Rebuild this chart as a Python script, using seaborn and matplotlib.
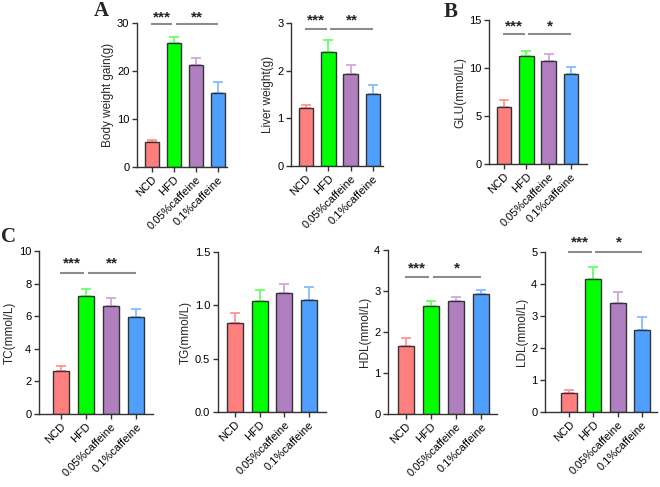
# Caffeine / high-fat diet bar panels (A, B, C)

import numpy as np
import pandas as pd
import matplotlib
matplotlib.use("Agg")
import matplotlib.pyplot as plt
import seaborn as sns

# -----------------------------------------
# Data (mean and upper error)
# -----------------------------------------
groups = ["NCD", "HFD", "0.05%caffeine", "0.1%caffeine"]

body_weight = [5.3, 25.8, 21.3, 15.5]
body_weight_err = [0.3, 1.3, 1.5, 2.3]

liver_weight = [1.22, 2.40, 1.93, 1.51]
liver_weight_err = [0.07, 0.25, 0.18, 0.19]

glu = [5.9, 11.3, 10.75, 9.4]
glu_err = [0.75, 0.45, 0.7, 0.7]

tc = [2.65, 7.25, 6.65, 5.95]
tc_err = [0.3, 0.4, 0.45, 0.5]

tg = [0.83, 1.04, 1.12, 1.05]
tg_err = [0.1, 0.1, 0.08, 0.12]

hdl = [1.65, 2.63, 2.75, 2.93]
hdl_err = [0.2, 0.13, 0.1, 0.1]

ldl = [0.6, 4.15, 3.4, 2.55]
ldl_err = [0.1, 0.38, 0.35, 0.42]

bar_colors = ["#FF7F7F", "#00FF00", "#AF7FBF", "#4F9FFF"]
err_colors = ["#FF8C8C", "#5CFF5C", "#C9A2D6", "#7DB8FF"]

# -----------------------------------------
# Style
# -----------------------------------------
sns.set_style("ticks")
plt.rcParams["font.family"] = ["Liberation Sans", "DejaVu Sans"]
plt.rcParams["axes.edgecolor"] = "#333333"
plt.rcParams["xtick.color"] = "#333333"
plt.rcParams["ytick.color"] = "#333333"
plt.rcParams["xtick.labelcolor"] = "black"
plt.rcParams["ytick.labelcolor"] = "black"

fig = plt.figure(figsize=(6.6, 4.87), dpi=100)
W, H = 660, 487


def add_ax(left, right, top, bottom):
    return fig.add_axes([left / W, 1 - bottom / H, (right - left) / W, (bottom - top) / H])


def panel(ax, values, errs, ylabel, ymax, step, xlim, sig=None, fmt="{:g}"):
    df = pd.DataFrame({"group": groups, "value": values})
    sns.barplot(data=df, x="group", y="value", hue="group", palette=bar_colors,
                legend=False, width=0.66, edgecolor="#333333", linewidth=1.0,
                saturation=1, ax=ax, zorder=2)
    for i, (v, e) in enumerate(zip(values, errs)):
        ax.errorbar(i, v, yerr=[[0], [e]], color=err_colors[i], capsize=3.5,
                    elinewidth=1.2, capthick=1.2, zorder=1)
    ax.set_xlim(*xlim)
    ax.set_ylim(0, ymax)
    ticks = np.arange(0, ymax + step / 2, step)
    ax.set_yticks(ticks)
    ax.set_yticklabels([fmt.format(t) for t in ticks])
    ax.set_xticks(range(len(groups)))
    ax.set_xticklabels(groups, rotation=45, ha="right", rotation_mode="anchor")
    ax.tick_params(axis="both", labelsize=8, length=3.5, width=1, pad=2)
    ax.set_xlabel("")
    ax.set_ylabel(ylabel, fontsize=8.5, labelpad=2)
    sns.despine(ax=ax)
    for s in ["left", "bottom"]:
        ax.spines[s].set_linewidth(1)
    if sig:
        line_y, star_y, stars = sig
        ax.plot([-0.05, 0.93], [line_y, line_y], color="#8C8C8C", lw=1.5,
                clip_on=False, solid_capstyle="butt")
        ax.plot([1.07, 3.0], [line_y, line_y], color="#8C8C8C", lw=1.5,
                clip_on=False, solid_capstyle="butt")
        ax.text(0.45, star_y, stars[0], ha="center", va="center", fontsize=11,
                fontweight="bold", clip_on=False)
        ax.text(2.05, star_y, stars[1], ha="center", va="center", fontsize=11,
                fontweight="bold", clip_on=False)


# -----------------------------------------
# Panels
# -----------------------------------------
ax1 = add_ax(137, 227, 23, 167)
panel(ax1, body_weight, body_weight_err, "Body weight gain(g)", 30, 10,
      (-0.68, 3.41), sig=(29.8, 31.2, ("***", "**")))

ax2 = add_ax(291, 383, 23, 166)
panel(ax2, liver_weight, liver_weight_err, "Liver weight(g)", 3, 1,
      (-0.67, 3.45), sig=(2.87, 3.05, ("***", "**")))

ax3 = add_ax(489, 587, 20, 164)
panel(ax3, glu, glu_err, "GLU(mmol/L)", 15, 5,
      (-0.67, 3.72), sig=(13.5, 14.35, ("***", "*")))

ax4 = add_ax(39, 153, 251, 414)
panel(ax4, tc, tc_err, "TC(mmol/L)", 10, 2,
      (-0.88, 3.68), sig=(8.65, 9.25, ("***", "**")))

ax5 = add_ax(218, 326, 252, 412)
panel(ax5, tg, tg_err, "TG(mmol/L)", 1.5, 0.5,
      (-0.69, 3.69), fmt="{:.1f}")

ax6 = add_ax(388, 497, 250, 414)
panel(ax6, hdl, hdl_err, "HDL(mmol/L)", 4, 1,
      (-0.72, 3.64), sig=(3.34, 3.56, ("***", "*")))

ax7 = add_ax(545, 657, 252, 412)
panel(ax7, ldl, ldl_err, "LDL(mmol/L)", 5, 1,
      (-0.99, 3.62), sig=(5.0, 5.3, ("***", "*")))

# panel letters
for letter, x, y in [("A", 94, 11), ("B", 444, 12), ("C", 1, 237)]:
    fig.text(x / W, 1 - y / H, letter, fontsize=15, fontweight="bold",
             family="Liberation Serif", va="center", ha="left")

plt.savefig("out.png", dpi=100)
